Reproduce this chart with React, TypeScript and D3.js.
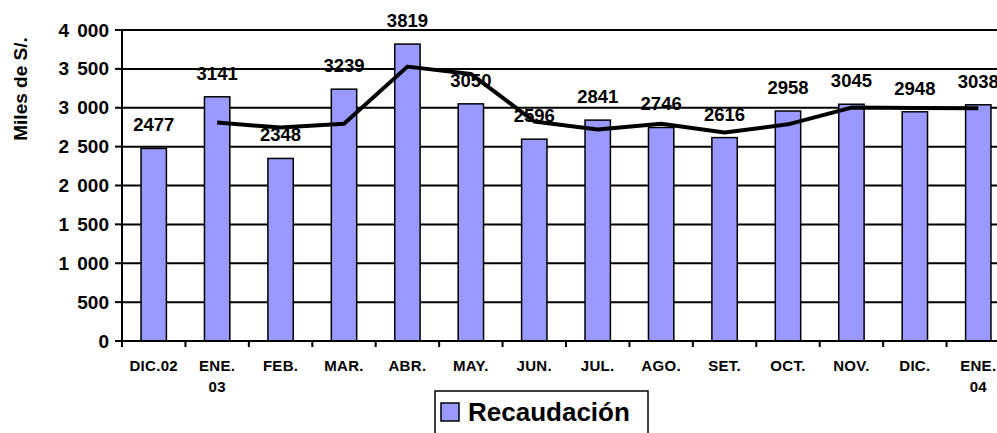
import { useEffect, useRef } from 'react';
import * as d3 from 'd3';

// months (second line of the label is optional)
const months = [
  ['DIC.02'], ['ENE.', '03'], ['FEB.'], ['MAR.'], ['ABR.'], ['MAY.'], ['JUN.'],
  ['JUL.'], ['AGO.'], ['SET.'], ['OCT.'], ['NOV.'], ['DIC.'], ['ENE.', '04'],
];
const recaudacion = [2477, 3141, 2348, 3239, 3819, 3050, 2596, 2841, 2746, 2616, 2958, 3045, 2948, 3038];
// 2-month moving average line, starts at ENE.03
const trendStart = 1;
const trend = [2809, 2745, 2794, 3529, 3435, 2823, 2719, 2794, 2681, 2787, 3002, 2997, 2993];
const yTicks = [0, 500, 1000, 1500, 2000, 2500, 3000, 3500, 4000];

const W = 997;
const H = 433;
const FONT = 'Arial, "Liberation Sans", sans-serif';

function drawChart(el: SVGSVGElement) {
  const svg = d3.select(el);
  svg.selectAll('*').remove();

  const keys = months.map((m, i) => String(i));
  const x = d3.scaleBand().domain(keys).range([122, 1010]).paddingInner(0.6).paddingOuter(0.3);
  const y = d3.scaleLinear().domain([0, 4000]).range([341, 30]);
  const step = x.step();
  const left = 122;

  // gridlines
  svg.append('g')
    .selectAll('line')
    .data(yTicks.filter(t => t > 0))
    .join('line')
    .attr('x1', left).attr('x2', W)
    .attr('y1', d => y(d)).attr('y2', d => y(d))
    .attr('stroke', '#000').attr('stroke-width', 2);

  // bars
  svg.append('g')
    .selectAll('rect')
    .data(recaudacion)
    .join('rect')
    .attr('x', (d, i) => x(String(i))!)
    .attr('y', d => y(d))
    .attr('width', x.bandwidth())
    .attr('height', d => y(0) - y(d))
    .attr('fill', '#9999ff')
    .attr('stroke', '#000')
    .attr('stroke-width', 1.5);

  // moving average line
  const line = d3.line<number>()
    .x((d, i) => x(String(i + trendStart))! + x.bandwidth() / 2)
    .y(d => y(d));
  svg.append('path')
    .datum(trend)
    .attr('d', line)
    .attr('fill', 'none')
    .attr('stroke', '#000')
    .attr('stroke-width', 4)
    .attr('stroke-linejoin', 'round');

  // value labels
  svg.append('g')
    .selectAll('text')
    .data(recaudacion)
    .join('text')
    .attr('x', (d, i) => x(String(i))! + x.bandwidth() / 2)
    .attr('y', d => y(d) - 17)
    .attr('text-anchor', 'middle')
    .attr('font-family', FONT)
    .attr('font-weight', 'bold')
    .attr('font-size', 18.5)
    .text(d => d);

  // y axis
  const yAxis = svg.append('g');
  yAxis.append('line')
    .attr('x1', left).attr('x2', left)
    .attr('y1', y(4000)).attr('y2', y(0))
    .attr('stroke', '#000').attr('stroke-width', 2);
  yAxis.selectAll('line.tick')
    .data(yTicks)
    .join('line')
    .attr('class', 'tick')
    .attr('x1', left - 7).attr('x2', left)
    .attr('y1', d => y(d)).attr('y2', d => y(d))
    .attr('stroke', '#000').attr('stroke-width', 2);
  yAxis.selectAll('text')
    .data(yTicks)
    .join('text')
    .attr('x', left - 13)
    .attr('y', d => y(d) + 6.5)
    .attr('text-anchor', 'end')
    .attr('font-family', FONT)
    .attr('font-weight', 'bold')
    .attr('font-size', 19)
    .attr('word-spacing', 3)
    .text(d => d3.format(',')(d).replace(',', ' '));

  svg.append('text')
    .attr('transform', 'translate(27,89) rotate(-90)')
    .attr('text-anchor', 'middle')
    .attr('font-family', FONT)
    .attr('font-weight', 'bold')
    .attr('font-size', 19)
    .text('Miles de S/.');

  // x axis
  const xAxis = svg.append('g');
  xAxis.append('line')
    .attr('x1', left).attr('x2', W)
    .attr('y1', y(0)).attr('y2', y(0))
    .attr('stroke', '#000').attr('stroke-width', 2);
  xAxis.selectAll('line.tick')
    .data(d3.range(months.length + 1))
    .join('line')
    .attr('class', 'tick')
    .attr('x1', i => left + i * step).attr('x2', i => left + i * step)
    .attr('y1', y(0)).attr('y2', y(0) + 6)
    .attr('stroke', '#000').attr('stroke-width', 2);
  const labels = xAxis.selectAll('text')
    .data(months)
    .join('text')
    .attr('x', (d, i) => x(String(i))! + x.bandwidth() / 2)
    .attr('y', 371)
    .attr('text-anchor', 'middle')
    .attr('font-family', FONT)
    .attr('font-weight', 'bold')
    .attr('font-size', 15)
    .attr('letter-spacing', 0.3);
  labels.selectAll('tspan')
    .data(d => d)
    .join('tspan')
    .attr('x', function () { return (this.parentNode as SVGTextElement).getAttribute('x'); })
    .attr('dy', (d, i) => (i === 0 ? 0 : 21))
    .text(d => d);

  // legend
  const lg = svg.append('g');
  lg.append('rect')
    .attr('x', 435).attr('y', 391).attr('width', 213).attr('height', 60)
    .attr('fill', '#fff').attr('stroke', '#000').attr('stroke-width', 1.5);
  lg.append('rect')
    .attr('x', 441).attr('y', 403).attr('width', 18).attr('height', 18)
    .attr('fill', '#9999ff').attr('stroke', '#000').attr('stroke-width', 1.5);
  lg.append('text')
    .attr('x', 468).attr('y', 421)
    .attr('font-family', FONT)
    .attr('font-weight', 'bold')
    .attr('font-size', 26)
    .text('Recaudación');
}

export default function App() {
  const ref = useRef<SVGSVGElement>(null);

  useEffect(() => {
    if (ref.current) drawChart(ref.current);
  }, []);

  return (
    <svg
      ref={ref}
      width={W}
      height={H}
      style={{ position: 'absolute', left: 0, top: 0, background: '#fff' }}
    />
  );
}
